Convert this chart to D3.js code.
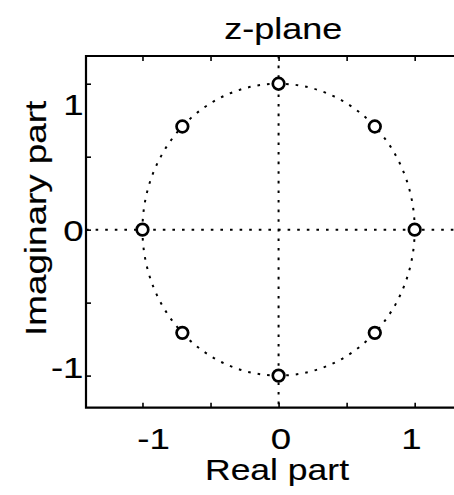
<!DOCTYPE html>
<html>
<head>
<meta charset="utf-8">
<script src="https://cdn.jsdelivr.net/npm/d3@7/dist/d3.min.js"></script>
<style>
  html, body { margin: 0; padding: 0; background: #fff; }
  svg { display: block; }
  text { font-family: "Liberation Sans", Arial, sans-serif; fill: #000; stroke: #000; stroke-width: 0.15px; }
</style>
</head>
<body>
<svg id="chart" width="454" height="495"></svg>
<script>
// Zeros of the filter (real and imaginary parts)
const zeroRe = [1, 0.707, 0, -0.707, -1, -0.707, 0, 0.707];
const zeroIm = [0, 0.707, 1, 0.707, 0, -0.707, -1, -0.707];

// Axis limits, tick positions and tick labels
const xLim = [-1.415, 1.48];
const yLim = [-1.22, 1.19];
const tickValues = [-1, -0.5, 0, 0.5, 1];
const labelValues = [-1, 0, 1];
const labelText = ["-1", "0", "1"];

const titleText = "z-plane";
const xLabelText = "Real part";
const yLabelText = "Imaginary part";

const svg = d3.select("#chart");
const box = { left: 86, right: 480, top: 56, bottom: 407.7 };

const x = d3.scaleLinear().domain(xLim).range([box.left, box.right]);
const y = d3.scaleLinear().domain(yLim).range([box.bottom, box.top]);

// Tick labels sit slightly inward of their tick marks
const xLab = d3.scaleLinear().domain(labelValues).range([153.5, 281, 411.5]);
const yLab = d3.scaleLinear().domain(labelValues).range([367.5, 230, 104]);

const fs = 30;
const stretch = 1.22; // wide letterforms

function widen(sel, len) {
  sel.each(function () {
    const t = d3.select(this);
    const w = len != null ? len : this.getComputedTextLength() * stretch;
    t.attr("textLength", w).attr("lengthAdjust", "spacingAndGlyphs");
  });
}

const dotted = { stroke: "#000", width: 2, dash: "2.6,7" };

// Dotted unit circle
svg.append("ellipse")
  .attr("cx", x(0)).attr("cy", y(0))
  .attr("rx", x(1) - x(0)).attr("ry", y(0) - y(1))
  .attr("fill", "none").attr("stroke", dotted.stroke)
  .attr("stroke-width", dotted.width).attr("stroke-dasharray", dotted.dash);

// Dotted real and imaginary axes
svg.append("line")
  .attr("x1", box.left).attr("x2", box.right)
  .attr("y1", y(0)).attr("y2", y(0))
  .attr("stroke", dotted.stroke).attr("stroke-width", dotted.width).attr("stroke-dasharray", dotted.dash);
svg.append("line")
  .attr("x1", x(0)).attr("x2", x(0))
  .attr("y1", box.top).attr("y2", box.bottom)
  .attr("stroke", dotted.stroke).attr("stroke-width", dotted.width).attr("stroke-dasharray", dotted.dash);

// Zero markers
svg.append("g").selectAll("circle")
  .data(zeroRe.map((r, i) => ({ re: r, im: zeroIm[i] })))
  .join("circle")
  .attr("cx", d => x(d.re)).attr("cy", d => y(d.im))
  .attr("r", 5.8)
  .attr("fill", "#fff").attr("stroke", "#000").attr("stroke-width", 2.7);

// Inward tick marks on bottom, top and left edges
const tl = -5;
const axes = [
  svg.append("g").attr("transform", `translate(0,${box.bottom})`)
    .call(d3.axisBottom(x).tickValues(tickValues).tickSize(tl).tickFormat("")),
  svg.append("g").attr("transform", `translate(0,${box.top})`)
    .call(d3.axisTop(x).tickValues(tickValues).tickSize(tl).tickFormat("")),
  svg.append("g").attr("transform", `translate(${box.left},0)`)
    .call(d3.axisLeft(y).tickValues(tickValues).tickSize(tl).tickFormat(""))
];
axes.forEach(g => {
  g.select(".domain").remove();
  g.selectAll(".tick line").attr("stroke", "#000").attr("stroke-width", 1.6);
  g.selectAll("text").remove();
});

// Axes box (left, top, bottom edges)
svg.append("path")
  .attr("d", `M${box.right},${box.top}H${box.left}V${box.bottom}H${box.right}`)
  .attr("fill", "none").attr("stroke", "#000").attr("stroke-width", 2.2);

// Tick labels
svg.append("g").selectAll("text")
  .data(labelValues)
  .join("text")
  .attr("x", d => xLab(d)).attr("y", 449)
  .attr("text-anchor", "middle").attr("font-size", fs)
  .text((d, i) => labelText[i])
  .call(widen);

svg.append("g").selectAll("text")
  .data(labelValues)
  .join("text")
  .attr("x", 83.5).attr("y", d => yLab(d)).attr("dy", "0.36em")
  .attr("text-anchor", "end").attr("font-size", fs)
  .text((d, i) => labelText[i])
  .call(widen);

// Title
svg.append("text")
  .attr("x", 283.3).attr("y", 38.5)
  .attr("text-anchor", "middle").attr("font-size", fs)
  .text(titleText)
  .call(widen, 118);

// Axis labels
svg.append("text")
  .attr("x", 277).attr("y", 480)
  .attr("text-anchor", "middle").attr("font-size", fs)
  .text(xLabelText)
  .call(widen, 144);

svg.append("text")
  .attr("transform", `translate(46,218.4) rotate(-90)`)
  .attr("text-anchor", "middle").attr("font-size", fs)
  .text(yLabelText)
  .call(widen, 235);
</script>
</body>
</html>
